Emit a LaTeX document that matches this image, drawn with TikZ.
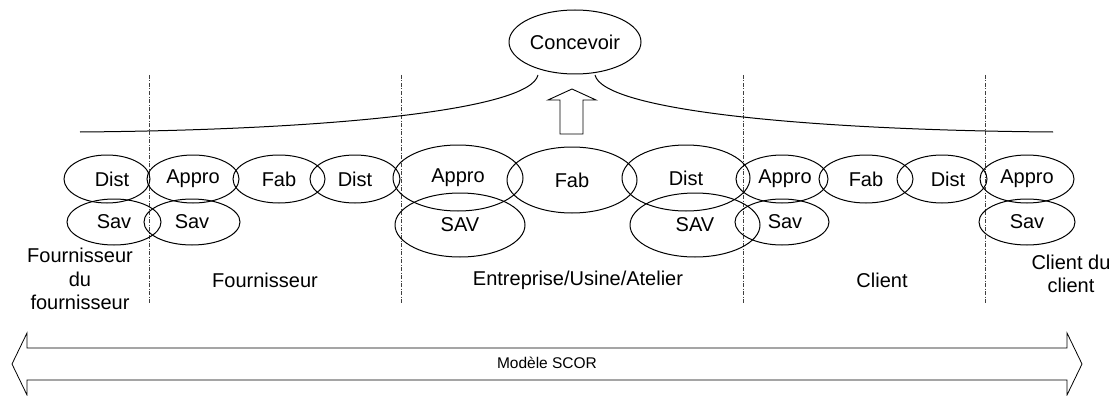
\documentclass[tikz,border=0pt]{standalone}
\usepackage{fontspec}
\setmainfont{Liberation Sans}
\usetikzlibrary{shapes.geometric}
\begin{document}
\begin{tikzpicture}[x=1pt,y=-1pt,
  ell/.style={draw,ellipse,line width=1pt,inner sep=0pt,font=\fontsize{20}{23}\selectfont},
  lbl/.style={align=center,font=\fontsize{20}{23.5}\selectfont},
  sep/.style={draw=black!75,line width=0.7pt,dash pattern=on 4pt off 1.5pt on 1pt off 1.5pt},
  ln/.style={line width=1pt}]
\useasboundingbox (0,0) rectangle (1114,396);
% Concevoir
\node[ell,minimum width=132pt,minimum height=64pt] (conc) at (575,42) {Concevoir};
% separators
\foreach \x/\n in {149/s1,401/s2,743/s3,985/s4}{
  \coordinate (\n t) at (\x,75);
  \coordinate (\n b) at (\x,303);
  \draw[sep] (\n t) -- (\n b);
}
% curves
\coordinate (cl) at (80,132);
\coordinate (cr) at (1053,132);
\coordinate (cls) at (538,75);
\coordinate (crs) at (595,75);
\draw[ln] (cl) .. controls (330,130) and (530,110) .. (cls);
\draw[ln] (cr) .. controls (803,130) and (603,110) .. (crs);
% up arrow
\draw[ln,line width=0.9pt] (560,134) -- (560,100) -- (548,100) -- (572,89) -- (596,100) -- (583,100) -- (583,134) -- cycle;
% row 1
\node[ell,minimum width=86pt,minimum height=48pt] (d1) at (107,179) {\hspace*{10pt}Dist};
\node[ell,minimum width=92pt,minimum height=48pt] (a2) at (193,179) {Appro};
\node[ell,minimum width=92pt,minimum height=48pt] (f2) at (279,179) {Fab};
\node[ell,minimum width=90pt,minimum height=48pt] (d2) at (355,179) {Dist};
\node[ell,minimum width=130pt,minimum height=66pt] (a3) at (458,178) {Appro};
\node[ell,minimum width=130pt,minimum height=66pt] (f3) at (572,180) {Fab};
\node[ell,minimum width=128pt,minimum height=66pt] (d3) at (686,178) {Dist};
\node[ell,minimum width=92pt,minimum height=48pt] (a4) at (782,179) {\hspace*{6pt}Appro};
\node[ell,minimum width=94pt,minimum height=48pt] (f4) at (866,179) {Fab};
\node[ell,minimum width=90pt,minimum height=48pt] (d4) at (942,179) {\hspace*{12pt}Dist};
\node[ell,minimum width=94pt,minimum height=48pt] (a5) at (1027,179) {Appro};
% row 2
\node[ell,minimum width=94pt,minimum height=46pt] (v1) at (114,222) {Sav};
\node[ell,minimum width=96pt,minimum height=46pt] (v2) at (192,222) {Sav};
\node[ell,minimum width=130pt,minimum height=64pt] (v3) at (460,225) {SAV};
\node[ell,minimum width=130pt,minimum height=64pt] (v4) at (695,225) {SAV};
\node[ell,minimum width=94pt,minimum height=46pt] (v5) at (782,222) {\hspace*{6pt}Sav};
\node[ell,minimum width=96pt,minimum height=46pt] (v6) at (1027,222) {Sav};
% labels
\node[lbl] (l1) at (80,279) {Fournisseur\\du\\fournisseur};
\node[lbl] (l2) at (265,280) {Fournisseur};
\node[lbl] (l3) at (578,280) {Entreprise/Usine/Atelier};
\node[lbl] (l4) at (882,280) {Client};
\node[lbl] (l5) at (1071,274) {Client du\\client};
% SCOR double arrow
\draw[line width=0.8pt] (12,364) -- (27,333) -- (27,348) -- (1067,348) -- (1067,333) -- (1082,364) -- (1067,395) -- (1067,380) -- (27,380) -- (27,395) -- cycle;
\node[font=\fontsize{15.5}{18}\selectfont] (scor) at (547,363) {Modèle SCOR};
\end{tikzpicture}
\end{document}
